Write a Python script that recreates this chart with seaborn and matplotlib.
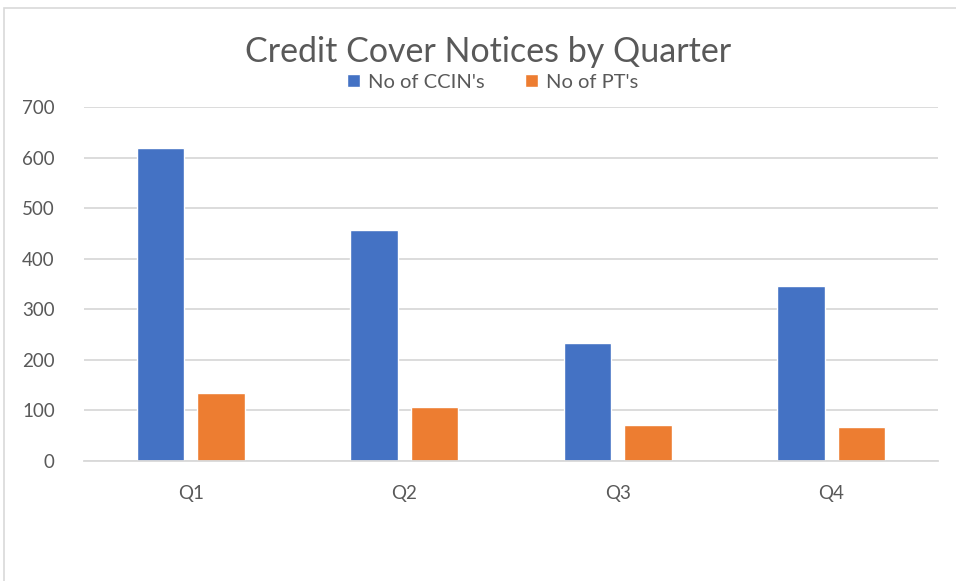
import matplotlib.pyplot as plt
import matplotlib.patches as mpatches
import pandas as pd
import seaborn as sns

# -------------------------------
# Data
# -------------------------------
QUARTERS = ["Q1", "Q2", "Q3", "Q4"]
CCIN_COUNTS = [618, 456, 233, 346]
PT_COUNTS = [134, 107, 71, 68]
SERIES_NAMES = ["No of CCIN's", "No of PT's"]
Y_TICKS = [0, 100, 200, 300, 400, 500, 600, 700]

BLUE = "#4472C4"
ORANGE = "#ED7D31"
TEXT_GRAY = "#595959"
GRID_GRAY = "#D9D9D9"


def build_frame() -> pd.DataFrame:
    """Long-format frame for seaborn."""
    rows = []
    for q, a, b in zip(QUARTERS, CCIN_COUNTS, PT_COUNTS):
        rows.append({"quarter": q, "series": SERIES_NAMES[0], "count": a})
        rows.append({"quarter": q, "series": SERIES_NAMES[1], "count": b})
    return pd.DataFrame(rows)


def main():
    df = build_frame()
    sns.set_theme(style="white")
    plt.rcParams["font.family"] = ["Lato", "DejaVu Sans"]

    fig = plt.figure(figsize=(9.56, 5.81), dpi=100)
    ax = fig.add_axes([84 / 956, 1 - 461 / 581, (938 - 84) / 956, (461 - 107) / 581])

    sns.barplot(
        data=df,
        x="quarter",
        y="count",
        hue="series",
        order=QUARTERS,
        hue_order=SERIES_NAMES,
        palette=[BLUE, ORANGE],
        width=0.567,
        gap=0.215,
        saturation=1,
        errorbar=None,
        ax=ax,
    )

    ax.set_ylim(0, 700)
    ax.set_yticks(Y_TICKS)
    ax.set_xlabel("")
    ax.set_ylabel("")
    ax.yaxis.grid(True, color=GRID_GRAY, linewidth=1.3)
    ax.set_axisbelow(True)
    for side in ["top", "right", "left"]:
        ax.spines[side].set_visible(False)
    ax.spines["bottom"].set_color(GRID_GRAY)
    ax.spines["bottom"].set_linewidth(1.3)
    ax.tick_params(axis="both", length=0, labelsize=13.5, colors=TEXT_GRAY)
    ax.tick_params(axis="y", pad=21)
    ax.tick_params(axis="x", pad=17)

    fig.text(488 / 956, 1 - 52 / 581, "Credit Cover Notices by Quarter",
             ha="center", va="center", fontsize=24.5, color=TEXT_GRAY)

    sns.move_legend(
        ax,
        "center",
        bbox_to_anchor=(493 / 956, 1 - 82 / 581),
        bbox_transform=fig.transFigure,
        ncol=2,
        frameon=False,
        title=None,
        fontsize=14.5,
        handlelength=0.65,
        handleheight=0.65,
        handletextpad=0.4,
        columnspacing=2.0,
    )
    for t in ax.get_legend().get_texts():
        t.set_color(TEXT_GRAY)

    # light chart-area border
    fig.patches.append(mpatches.Rectangle(
        (4 / 956, -0.1), 1.1, 1.1 - 8 / 581,
        transform=fig.transFigure, fill=False, edgecolor=GRID_GRAY, linewidth=1.2,
    ))

    fig.savefig("out.png", dpi=100)


if __name__ == "__main__":
    main()
